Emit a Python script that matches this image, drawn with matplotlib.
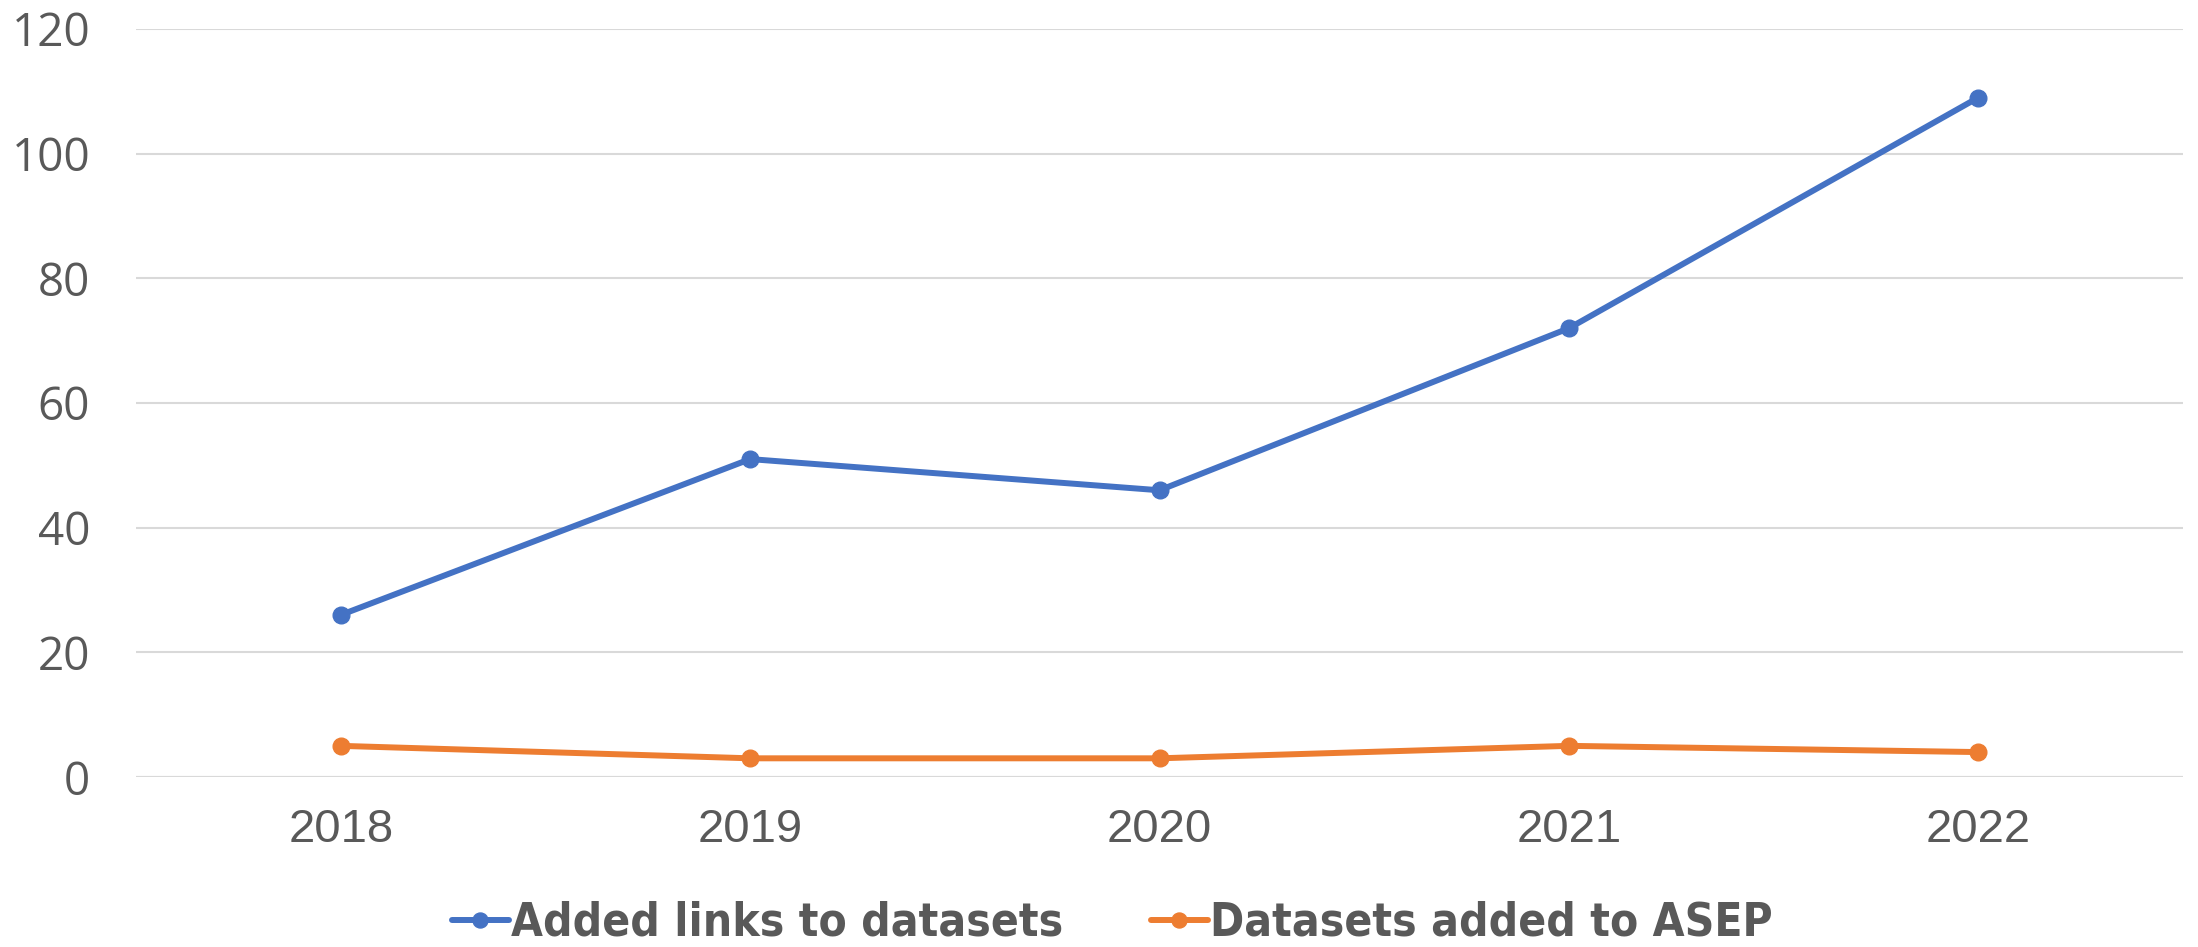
import matplotlib.pyplot as plt
import numpy as np
from matplotlib import font_manager

years = ['2018', '2019', '2020', '2021', '2022']
added_links = [26, 51, 46, 72, 109]
datasets_added = [5, 3, 3, 5, 4]
yticks = [0, 20, 40, 60, 80, 100, 120]

text_gray = '#595959'

# look for a condensed bold face for the legend, else use a plain bold one
legend_prop = None
for f in font_manager.fontManager.ttflist:
    narrow = ('narrow' in f.name.lower() or 'condensed' in f.name.lower()
              or f.stretch in ('condensed', 'semi-condensed', 'extra-condensed'))
    if narrow and f.weight in ('bold', 700, 'semibold', 600):
        legend_prop = font_manager.FontProperties(fname=f.fname, size=33)
        break
if legend_prop is None:
    legend_prop = font_manager.FontProperties(family='Liberation Sans', weight='bold', size=30)

fig = plt.figure(figsize=(21.98, 9.47), dpi=100)
ax = fig.add_axes([0.0619, 0.1795, 0.9313, 0.7899])

x = np.arange(len(years))
ax.plot(x, added_links, color='#4472C4', linewidth=4.3, marker='o', markersize=12,
        label='Added links to datasets', solid_capstyle='round')
ax.plot(x, datasets_added, color='#ED7D31', linewidth=4.3, marker='o', markersize=12,
        label='Datasets added to ASEP', solid_capstyle='round')

ax.set_xlim(-0.5, len(years) - 0.5)
ax.set_ylim(0, 120)
ax.set_yticks(yticks)
ax.set_xticks(x)
ax.set_xticklabels(years, fontfamily='Liberation Sans', fontsize=34, color=text_gray)
ax.set_yticklabels([str(v) for v in yticks], fontfamily='Open Sans', fontsize=33, color=text_gray)
ax.tick_params(axis='both', length=0)
ax.tick_params(axis='y', pad=33)
ax.tick_params(axis='x', pad=22)
ax.grid(axis='y', color='#D9D9D9', linewidth=1.5)
ax.set_axisbelow(True)
for s in ax.spines.values():
    s.set_visible(False)
ax.axhline(0, color='#D9D9D9', linewidth=1.5, zorder=0)

leg = fig.legend(loc='center', bbox_to_anchor=(0.506, 0.025), ncol=2, frameon=False,
                 handlelength=1.25, handletextpad=0.05, columnspacing=1.9,
                 prop=legend_prop, markerscale=0.9)
for t in leg.get_texts():
    t.set_color(text_gray)

fig.savefig('out.png', dpi=100)
